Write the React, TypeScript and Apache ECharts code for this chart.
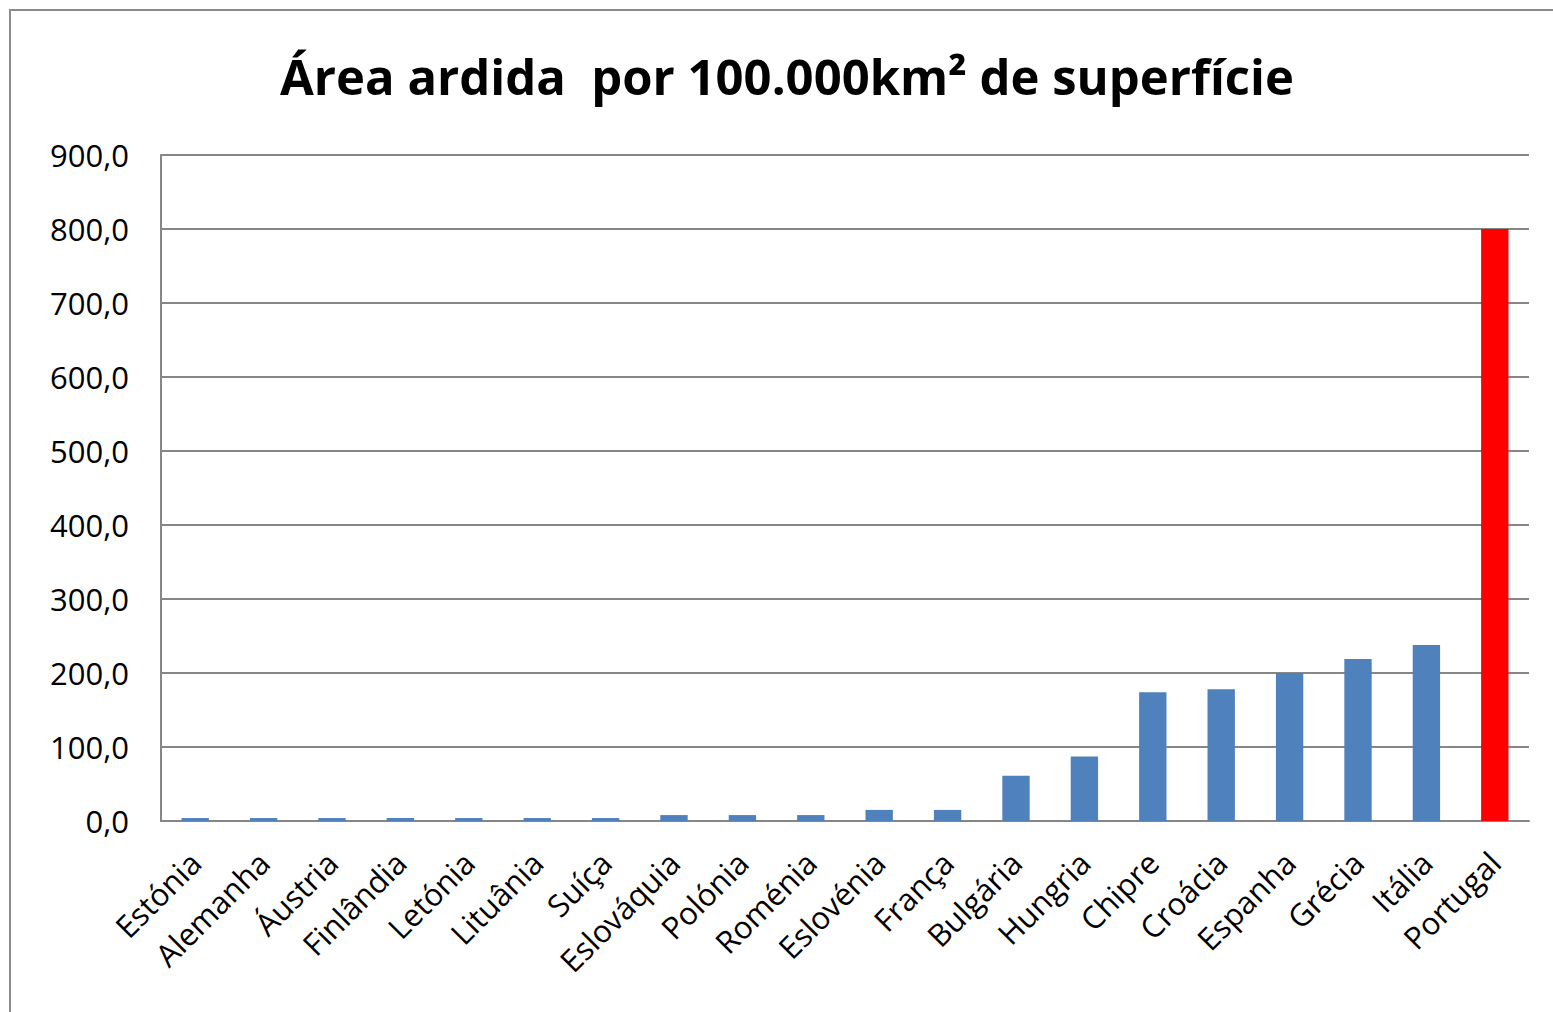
import React, { useEffect, useRef } from "react";
import * as echarts from "echarts";

const categories = [
  "Estónia", "Alemanha", "Áustria", "Finlândia", "Letónia", "Lituânia", "Suíça",
  "Eslováquia", "Polónia", "Roménia", "Eslovénia", "França", "Bulgária", "Hungria",
  "Chipre", "Croácia", "Espanha", "Grécia", "Itália", "Portugal",
];
const values = [4, 4, 4, 4, 4, 4, 4, 8, 8, 8, 15, 15, 61, 87, 174, 178, 200, 219, 238, 800];
const highlight = "Portugal";
const titleText = "Área ardida  por 100.000km² de superfície";

const FONT = "'Open Sans', 'Noto Sans', sans-serif";

export default function App() {
  const ref = useRef<HTMLDivElement>(null);
  useEffect(() => {
    if (!ref.current) return;
    const chart = echarts.init(ref.current, null, { renderer: "svg" });
    chart.setOption({
      animation: false,
      backgroundColor: "#fff",
      graphic: [
        {
          type: "rect",
          shape: { x: 10, y: 10, width: 1600, height: 1100 },
          style: { fill: "none", stroke: "#8c8c8c", lineWidth: 2 },
          silent: true,
        },
        {
          type: "text",
          x: 787,
          y: 76,
          style: {
            text: titleText,
            font: `bold 49px ${FONT}`,
            fill: "#000",
            textAlign: "center",
            textVerticalAlign: "middle",
          },
        },
      ],
      grid: { left: 161, right: 24, top: 155, bottom: 191, containLabel: false },
      xAxis: {
        type: "category",
        data: categories,
        axisLine: { show: true, lineStyle: { color: "#868686", width: 2 } },
        axisTick: { show: false },
        axisLabel: {
          rotate: 45,
          interval: 0,
          color: "#000",
          fontFamily: FONT,
          fontSize: 31,
          margin: 36,
        },
      },
      yAxis: {
        type: "value",
        min: 0,
        max: 900,
        interval: 100,
        axisLine: { show: true, lineStyle: { color: "#868686", width: 2 } },
        axisTick: { show: false },
        splitLine: { show: true, lineStyle: { color: "#868686", width: 2 } },
        axisLabel: {
          color: "#000",
          fontFamily: FONT,
          fontSize: 31,
          margin: 32,
          formatter: (v: number) => v.toFixed(1).replace(".", ","),
        },
      },
      series: [
        {
          type: "bar",
          data: values.map((v, i) => ({
            value: v,
            itemStyle: { color: categories[i] === highlight ? "#FF0000" : "#4F81BD" },
          })),
          barWidth: "40%",
        },
      ],
    });
    return () => chart.dispose();
  }, []);
  return (
    <div
      ref={ref}
      style={{ position: "absolute", left: 0, top: 0, width: 1553, height: 1012 }}
    />
  );
}
